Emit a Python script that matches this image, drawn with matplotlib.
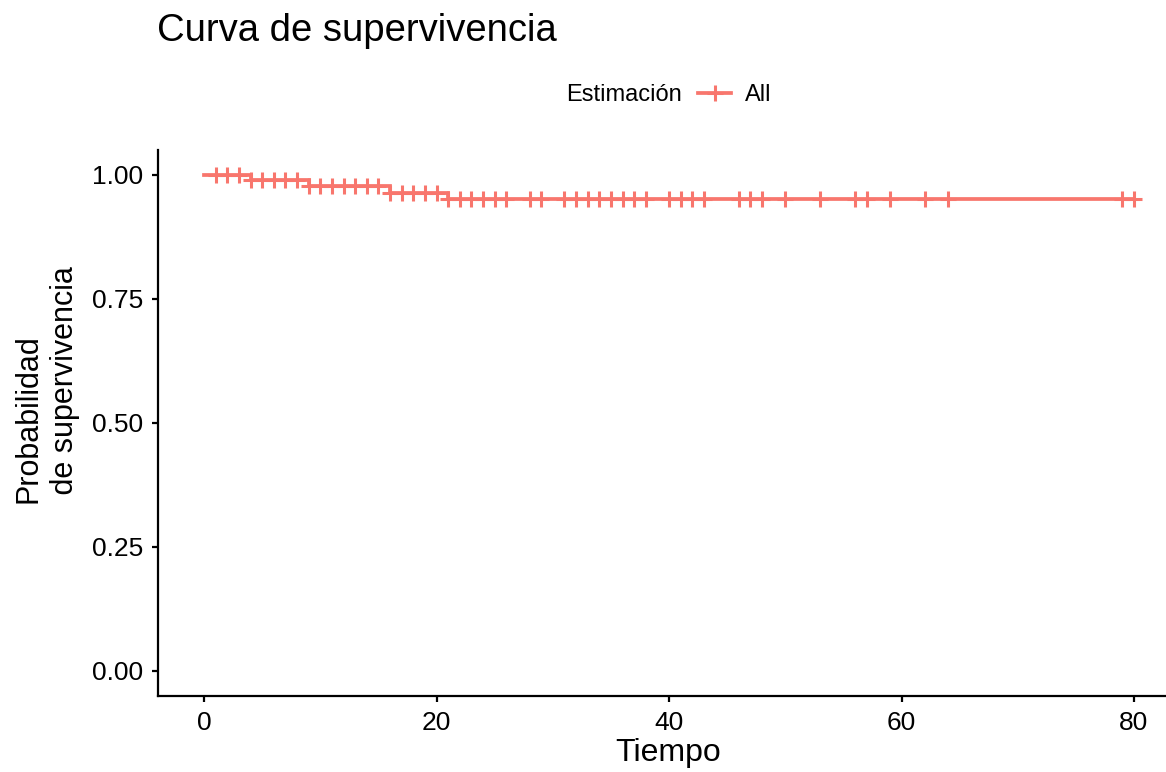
import numpy as np
import matplotlib
matplotlib.use("Agg")
import matplotlib.pyplot as plt
from matplotlib.lines import Line2D

plt.rcParams['font.family'] = ['Liberation Sans', 'DejaVu Sans']

# ---- data ----
event_times = [0, 4, 9, 16, 21]
surv_levels = [1.0, 0.989, 0.977, 0.964, 0.952]
end_time = 80
censor_times = [1, 2, 3, 4, 5, 6, 7, 8, 9, 10, 11, 12, 13, 14, 15, 16, 17, 18,
                 19, 20, 21, 22, 23, 24, 25, 26, 28, 29, 31, 32, 33, 34, 35, 36,
                 37, 38, 40, 41, 42, 43, 46, 47, 48, 50, 53, 56, 57, 59, 62, 64,
                 79, 80]
x_ticks = [0, 20, 40, 60, 80]
y_ticks = [0.00, 0.25, 0.50, 0.75, 1.00]
y_ticklabels = ["0.00", "0.25", "0.50", "0.75", "1.00"]
title = "Curva de supervivencia"
xlabel = "Tiempo"
ylabel = "Probabilidad\n de supervivencia"
legend_title = "Estimación"
legend_label = "All"

color = "#F8766D"
W, H = 1166, 772
fig = plt.figure(figsize=(W / 100, H / 100), dpi=100)

left, right, top, bottom = 157.5, 1180.5, 150.2, 695.8
ax = fig.add_axes([left / W, 1 - bottom / H, (right - left) / W, (bottom - top) / H])

st_x = list(event_times) + [end_time]
st_y = list(surv_levels) + [surv_levels[-1]]
ax.step(st_x, st_y, where='post', color=color, lw=2.7, solid_joinstyle='miter')

idx = np.searchsorted(np.array(event_times), np.array(censor_times), side='right') - 1
cy = np.array(surv_levels)[idx]
ax.plot(censor_times, cy, linestyle='none', marker='+', ms=11, mew=2.2, color=color)

ax.set_xlim(-4, 84)
ax.set_ylim(-0.05, 1.05)
ax.set_xticks(x_ticks)
ax.set_yticks(y_ticks)
ax.set_yticklabels(y_ticklabels)
ax.tick_params(axis='both', labelsize=19, width=1.6, length=4, color='black',
               labelcolor='black')
ax.tick_params(axis='x', pad=7)
ax.tick_params(axis='y', pad=6.5)
for s in ['top', 'right']:
    ax.spines[s].set_visible(False)
for s in ['left', 'bottom']:
    ax.spines[s].set_linewidth(1.6)
    ax.spines[s].set_color('black')

fig.text(157 / W, 1 - 31 / H, title, fontsize=27.5, ha='left', va='center')
fig.text(668 / W, 1 - 753 / H, xlabel, fontsize=23, ha='center', va='center')
fig.text(47 / W, 1 - 503 / H, ylabel, fontsize=22, rotation=90, ha='center',
         va='bottom', multialignment='left', linespacing=1.3)

fig.text(682 / W, 1 - 95 / H, legend_title, fontsize=17, ha='right', va='center')
handle = Line2D([], [], color=color, lw=2.7, marker='+', ms=11, mew=2.2)
fig.legend([handle], [legend_label], loc='center left',
           bbox_to_anchor=(698 / W, 1 - 95 / H), frameon=False, fontsize=17,
           handlelength=1.4, handletextpad=0.6, borderpad=0, borderaxespad=0)

fig.savefig("out.png", dpi=100)
